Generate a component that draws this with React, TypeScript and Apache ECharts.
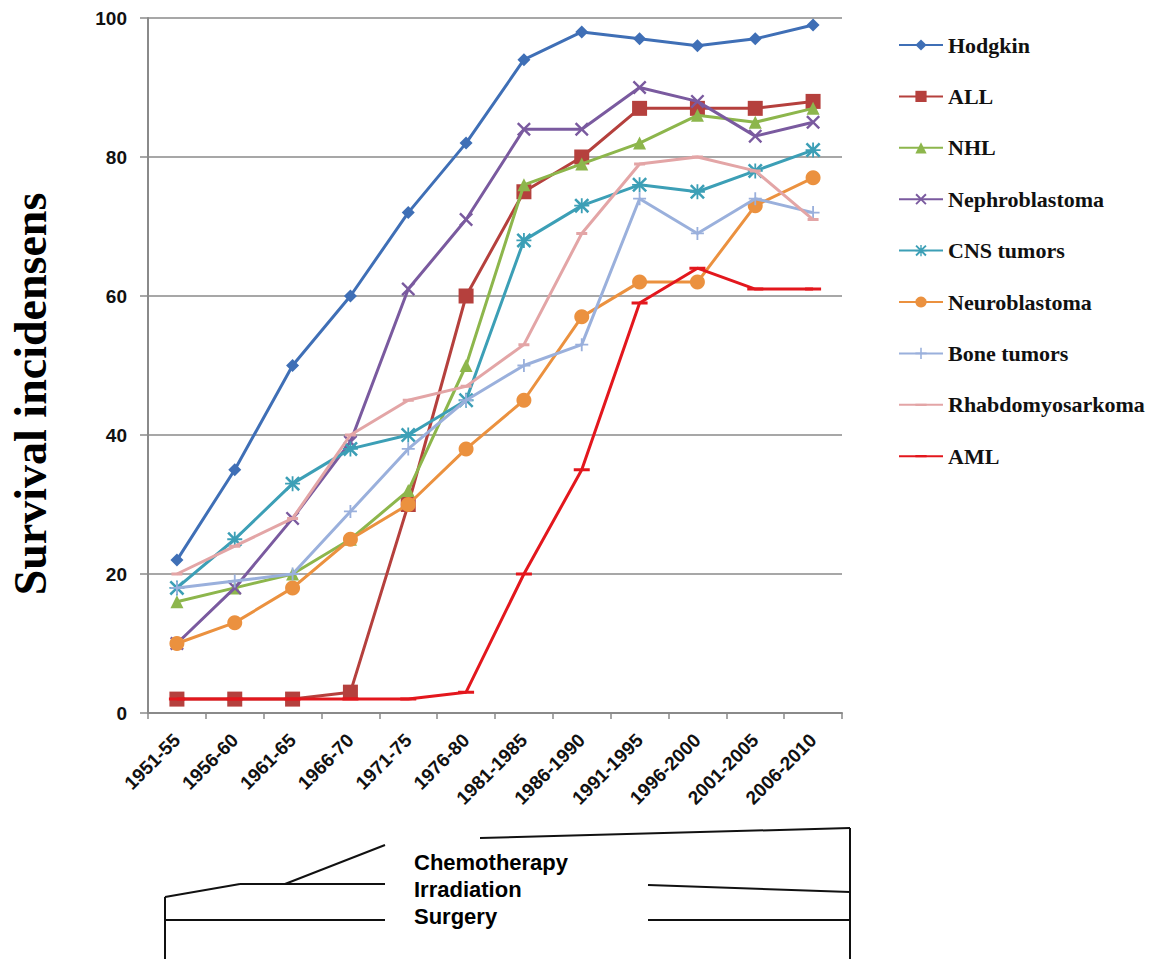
import React, { useEffect, useRef } from 'react';
import * as echarts from 'echarts';

const categories = ['1951-55', '1956-60', '1961-65', '1966-70', '1971-75', '1976-80', '1981-1985', '1986-1990', '1991-1995', '1996-2000', '2001-2005', '2006-2010'];

const hodgkin = [22, 35, 50, 60, 72, 82, 94, 98, 97, 96, 97, 99];
const all = [2, 2, 2, 3, 30, 60, 75, 80, 87, 87, 87, 88];
const nhl = [16, 18, 20, 25, 32, 50, 76, 79, 82, 86, 85, 87];
const nephroblastoma = [10, 18, 28, 39, 61, 71, 84, 84, 90, 88, 83, 85];
const cnsTumors = [18, 25, 33, 38, 40, 45, 68, 73, 76, 75, 78, 81];
const neuroblastoma = [10, 13, 18, 25, 30, 38, 45, 57, 62, 62, 73, 77];
const boneTumors = [18, 19, 20, 29, 38, 45, 50, 53, 74, 69, 74, 72];
const rhabdomyosarkoma = [20, 24, 28, 40, 45, 47, 53, 69, 79, 80, 78, 71];
const aml = [2, 2, 2, 2, 2, 3, 20, 35, 59, 64, 61, 61];

const seriesNames = ['Hodgkin', 'ALL', 'NHL', 'Nephroblastoma', 'CNS tumors', 'Neuroblastoma', 'Bone tumors', 'Rhabdomyosarkoma', 'AML'];
const seriesData = [hodgkin, all, nhl, nephroblastoma, cnsTumors, neuroblastoma, boneTumors, rhabdomyosarkoma, aml];

const treatmentLabels = ['Chemotherapy', 'Irradiation', 'Surgery'];
const yTitle = 'Survival incidensens';

const X_PATH = 'path://M0,1.2 L1.2,0 L5,3.8 L8.8,0 L10,1.2 L6.2,5 L10,8.8 L8.8,10 L5,6.2 L1.2,10 L0,8.8 L3.8,5 Z';
const PLUS_PATH = 'path://M4.3,0 H5.7 V4.3 H10 V5.7 H5.7 V10 H4.3 V5.7 H0 V4.3 H4.3 Z';
const STAR_PATH = 'path://M0,1.2 L1.2,0 L5,3.8 L8.8,0 L10,1.2 L6.2,5 L10,8.8 L8.8,10 L5,6.2 L1.2,10 L0,8.8 L3.8,5 Z M4.4,0 H5.6 V4.4 H10 V5.6 H5.6 V10 H4.4 V5.6 H0 V4.4 H4.4 Z';
// horizontal dash inside a square bounding box (tiny corner specks fix the box)
const DASH_PATH = 'path://M0,0 h0.01 v0.01 h-0.01 Z M0,4 H10 V6 H0 Z M9.99,9.99 h0.01 v0.01 h-0.01 Z';

const styles = [
  { color: '#3F6FB6', symbol: 'diamond', size: 13, width: 3 },
  { color: '#B5403D', symbol: 'rect', size: 15, width: 3 },
  { color: '#8DB64C', symbol: 'triangle', size: 13, width: 3 },
  { color: '#7A5A9F', symbol: X_PATH, size: 14, width: 3 },
  { color: '#3C9FB6', symbol: STAR_PATH, size: 15, width: 3 },
  { color: '#EB913F', symbol: 'circle', size: 15, width: 3 },
  { color: '#9AB0DC', symbol: PLUS_PATH, size: 13, width: 3 },
  { color: '#E3A5A6', symbol: DASH_PATH, size: [11, 15], width: 3 },
  { color: '#E3171D', symbol: DASH_PATH, size: [16, 15], width: 3 },
];

export default function App() {
  const ref = useRef<HTMLDivElement>(null);
  useEffect(() => {
    document.body.style.margin = '0';
    document.body.style.overflow = 'hidden';
    const chart = echarts.init(ref.current!, null, { renderer: 'svg' });
    const lineSeg = (x1: number, y1: number, x2: number, y2: number) => ({
      type: 'line',
      shape: { x1, y1, x2, y2 },
      style: { stroke: '#111', lineWidth: 2 },
    });
    const option: any = {
      animation: false,
      backgroundColor: '#fff',
      grid: { left: 148, right: 316, top: 18, bottom: 246 },
      legend: {
        orient: 'vertical',
        left: 893,
        top: 29,
        itemWidth: 44,
        itemHeight: 14,
        itemGap: 29.4,
        data: seriesNames,
        textStyle: { fontFamily: 'Liberation Serif', fontWeight: 'bold', fontSize: 22, color: '#111', lineHeight: 20 },
      },
      xAxis: {
        type: 'category',
        data: categories,
        boundaryGap: true,
        axisLine: { lineStyle: { color: '#8a8a8a', width: 2 } },
        axisTick: { show: true, length: 6, alignWithLabel: false, lineStyle: { color: '#8a8a8a', width: 1.5 } },
        axisLabel: {
          rotate: 45,
          interval: 0,
          margin: 24,
          fontFamily: 'Liberation Sans',
          fontWeight: 'bold',
          fontSize: 19,
          color: '#111',
        },
      },
      yAxis: {
        type: 'value',
        min: 0,
        max: 100,
        interval: 20,
        axisLine: { show: true, lineStyle: { color: '#8a8a8a', width: 2 } },
        axisTick: { show: true, length: 8, lineStyle: { color: '#8a8a8a', width: 1.5 } },
        splitLine: { lineStyle: { color: '#8a8a8a', width: 1.5 } },
        axisLabel: {
          margin: 21,
          fontFamily: 'Liberation Sans',
          fontWeight: 'bold',
          fontSize: 19,
          color: '#111',
        },
      },
      series: seriesNames.map((name, i) => ({
        name,
        type: 'line',
        data: seriesData[i],
        symbol: styles[i].symbol,
        symbolSize: styles[i].size,
        showAllSymbol: true,
        lineStyle: { color: styles[i].color, width: styles[i].width },
        itemStyle: { color: styles[i].color },
        z: 2 + i,
      })),
      graphic: [
        {
          type: 'text',
          x: 30,
          y: 394,
          rotation: Math.PI / 2,
          style: {
            text: yTitle,
            font: 'bold 46px "Liberation Serif"',
            fill: '#000',
            textAlign: 'center',
            textVerticalAlign: 'middle',
          },
        },
        lineSeg(165, 897, 240, 884),
        lineSeg(240, 884, 385, 884),
        lineSeg(285, 884, 385, 845),
        lineSeg(480, 838, 850, 828),
        lineSeg(648, 885, 850, 892),
        lineSeg(165, 920, 385, 920),
        lineSeg(648, 920, 850, 920),
        lineSeg(165, 897, 165, 959),
        lineSeg(850, 828, 850, 959),
        ...treatmentLabels.map((t, i) => ({
          type: 'text',
          x: 414,
          y: 862 + i * 27,
          style: {
            text: t,
            font: 'bold 22px "Liberation Sans"',
            fill: '#000',
            textAlign: 'left',
            textVerticalAlign: 'middle',
          },
        })),
      ],
    };
    chart.setOption(option);
    return () => chart.dispose();
  }, []);
  return <div ref={ref} style={{ width: 1158, height: 959 }} />;
}
